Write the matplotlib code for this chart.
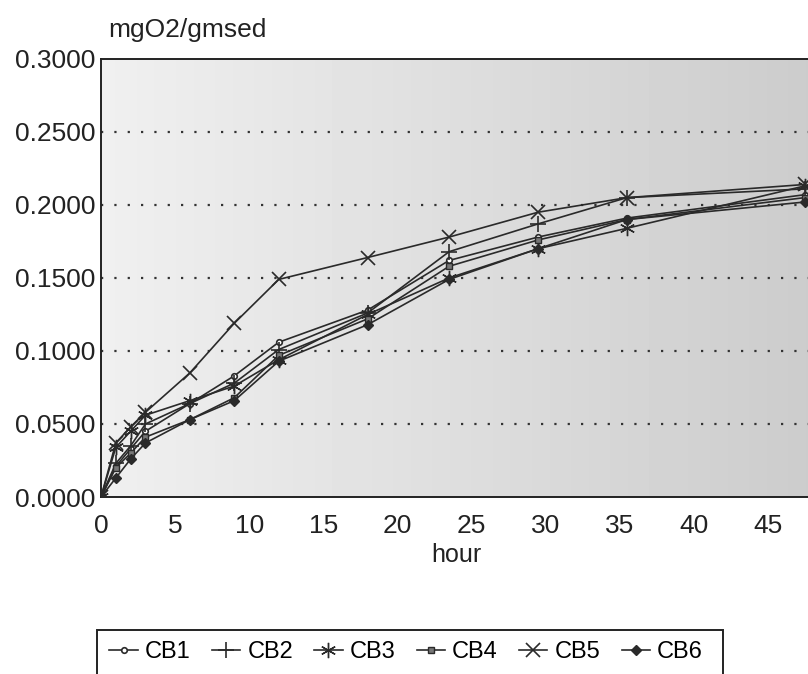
import numpy as np
import matplotlib
matplotlib.use("Agg")
from matplotlib import pyplot as plt
from matplotlib.patches import Rectangle

plt.rcParams['font.family'] = ['Liberation Sans', 'DejaVu Sans']

# oxygen uptake
hours = [0, 1, 2, 3, 6, 9, 12, 18, 23.5, 29.5, 35.5, 47.5]
cb1 = [0, 0.021, 0.033, 0.045, 0.064, 0.083, 0.106, 0.128, 0.162, 0.178, 0.191, 0.207]
cb2 = [0, 0.023, 0.035, 0.050, 0.064, 0.078, 0.101, 0.126, 0.168, 0.187, 0.205, 0.211]
cb3 = [0, 0.034, 0.045, 0.056, 0.066, 0.076, 0.094, 0.125, 0.150, 0.170, 0.184, 0.213]
cb4 = [0, 0.020, 0.030, 0.041, 0.053, 0.068, 0.097, 0.122, 0.158, 0.176, 0.190, 0.205]
cb5 = [0, 0.037, 0.048, 0.058, 0.085, 0.119, 0.149, 0.164, 0.178, 0.195, 0.205, 0.214]
cb6 = [0, 0.013, 0.026, 0.037, 0.053, 0.066, 0.093, 0.118, 0.149, 0.170, 0.190, 0.202]

series = ["CB1", "CB2", "CB3", "CB4", "CB5", "CB6"]
yticks = [0, 0.05, 0.10, 0.15, 0.20, 0.25, 0.30]
xticks = [0, 5, 10, 15, 20, 25, 30, 35, 40, 45]

fig = plt.figure(figsize=(8.08, 6.74), dpi=100)
ax = fig.add_axes([0.125, 0.2626, 0.88, 0.65])

# scanned grey background, a bit darker to the right
grad = np.linspace(0.94, 0.80, 200).reshape(1, -1)
ax.imshow(grad, cmap="gray", vmin=0, vmax=1, aspect="auto",
          extent=[0, 1, 0, 1], transform=ax.transAxes, zorder=0)

ink = "#2a2a2a"
styles = {
    "CB1": dict(marker="o", ms=4, mfc="white", mec=ink, mew=1.2),
    "CB2": dict(marker="+", ms=12, mec=ink, mew=1.2),
    "CB3": dict(marker=(6, 2, 0), ms=11, mec=ink, mew=1.0),
    "CB4": dict(marker="s", ms=5, mfc="#777777", mec=ink, mew=1.0),
    "CB5": dict(marker="x", ms=10, mec=ink, mew=1.2),
    "CB6": dict(marker="D", ms=5, mfc=ink, mec=ink),
}
data = {"CB1": cb1, "CB2": cb2, "CB3": cb3, "CB4": cb4, "CB5": cb5, "CB6": cb6}

for name in series:
    ax.plot(hours, data[name], color=ink, lw=1.2, label=name, zorder=3, **styles[name])

for y in yticks[1:-1]:
    ax.axhline(y, color="#333333", lw=1.6, ls=(0, (1, 5)), zorder=2)

ax.set_xlim(0, 48)
ax.set_ylim(0, 0.3)
ax.set_xticks(xticks)
ax.set_yticks(yticks)
ax.set_yticklabels([f"{v:.4f}" for v in yticks])
ax.tick_params(length=0, labelsize=19, pad=4, colors="#222222")
ax.tick_params(axis="x", pad=12)
for s in ["left", "bottom", "top"]:
    ax.spines[s].set_color("#222222")
    ax.spines[s].set_linewidth(1.4)
ax.spines["right"].set_visible(False)

ax.set_xlabel("hour", fontsize=18, color="#222222", labelpad=4)
fig.text(108 / 808, 1 - 30 / 674, "mgO2/gmsed", fontsize=19, color="#222222",
         ha="left", va="center")

# legend, box runs off the bottom of the page as in the scan
fig.patches.append(Rectangle((97 / 808, -0.05), (723 - 97) / 808, 0.05 + (674 - 630) / 674,
                             transform=fig.transFigure, fill=False, ec="#222222", lw=1.4))
fig.legend(loc="center left", bbox_to_anchor=(100 / 808, 1 - 652 / 674), ncol=6,
           frameon=False, fontsize=17, handlelength=1.2, handletextpad=0.3,
           columnspacing=0.9, borderaxespad=0)

fig.savefig("out.png", dpi=100)
